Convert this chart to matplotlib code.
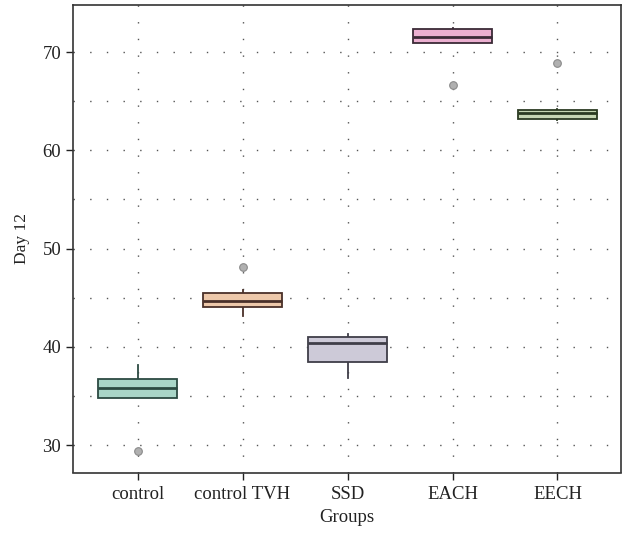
import matplotlib
matplotlib.use("Agg")
import matplotlib.pyplot as plt
from matplotlib.ticker import MultipleLocator

plt.rcParams['font.family'] = ['Liberation Serif', 'DejaVu Serif']

groups = ["control", "control TVH", "SSD", "EACH", "EECH"]
q1 = [34.77, 44.08, 38.40, 70.95, 63.17]
median = [35.79, 44.65, 40.43, 71.50, 63.81]
q3 = [36.70, 45.50, 41.03, 72.34, 64.11]
whisker_low = [34.77, 43.13, 36.83, 70.90, 63.10]
whisker_high = [38.12, 45.77, 41.27, 72.50, 64.21]
outliers = [[29.39], [48.17], [], [66.62], [68.85]]

face_colors = ["#a9d6c8", "#edc8aa", "#cdcad8", "#ebafd0", "#c6d6b3"]
edge_colors = ["#2c4a42", "#4a3029", "#3f3e48", "#3a2a36", "#2b3a22"]

stats = []
for i, name in enumerate(groups):
    stats.append(dict(label=name, q1=q1[i], med=median[i], q3=q3[i],
                      whislo=whisker_low[i], whishi=whisker_high[i],
                      fliers=outliers[i]))

fig = plt.figure(figsize=(6.24, 5.33), dpi=100)
ax = fig.add_axes([73/624, 1 - 472.5/533, (621 - 73)/624, (472.5 - 5)/533])

positions = list(range(len(groups)))
bp = ax.bxp(stats, positions=positions, widths=0.76, patch_artist=True,
            showcaps=False, manage_ticks=False,
            flierprops=dict(marker='o', markersize=5.5,
                            markerfacecolor='#b0b0b0', markeredgecolor='#8a8a8a',
                            markeredgewidth=0.8))
for i in range(len(groups)):
    box = bp['boxes'][i]
    box.set_facecolor(face_colors[i])
    box.set_edgecolor(edge_colors[i])
    box.set_linewidth(1.3)
    box.set_zorder(3)
    bp['medians'][i].set_color(edge_colors[i])
    bp['medians'][i].set_linewidth(2.0)
    bp['medians'][i].set_zorder(4)
    for w in bp['whiskers'][2 * i:2 * i + 2]:
        w.set_color(edge_colors[i])
        w.set_linewidth(1.3)
        w.set_zorder(2)
    bp['fliers'][i].set_zorder(4)

ax.set_xlim(-0.615, 4.605)
ax.set_ylim(27.2, 74.8)
ax.set_xticks(positions)
ax.set_xticklabels(groups)
ax.yaxis.set_major_locator(MultipleLocator(10))
ax.yaxis.set_minor_locator(MultipleLocator(5))
ax.tick_params(axis='both', which='major', direction='out', length=5,
               width=1, labelsize=13.5, colors='#222222')
ax.tick_params(axis='x', which='major', pad=5)
ax.tick_params(axis='y', which='minor', length=0)

grid_style = dict(color='#555555', linestyle=(0, (1, 11)), linewidth=1.0)
ax.grid(True, axis='y', which='both', **grid_style)
ax.grid(True, axis='x', which='major', **grid_style)
ax.set_axisbelow(True)

for s in ax.spines.values():
    s.set_color('#333333')
    s.set_linewidth(1.2)

ax.set_xlabel("Groups", fontsize=13.5, color='#222222', labelpad=4)
ax.set_ylabel("Day 12", fontsize=12.5, color='#222222', labelpad=9)

fig.savefig("out.png", dpi=100)
